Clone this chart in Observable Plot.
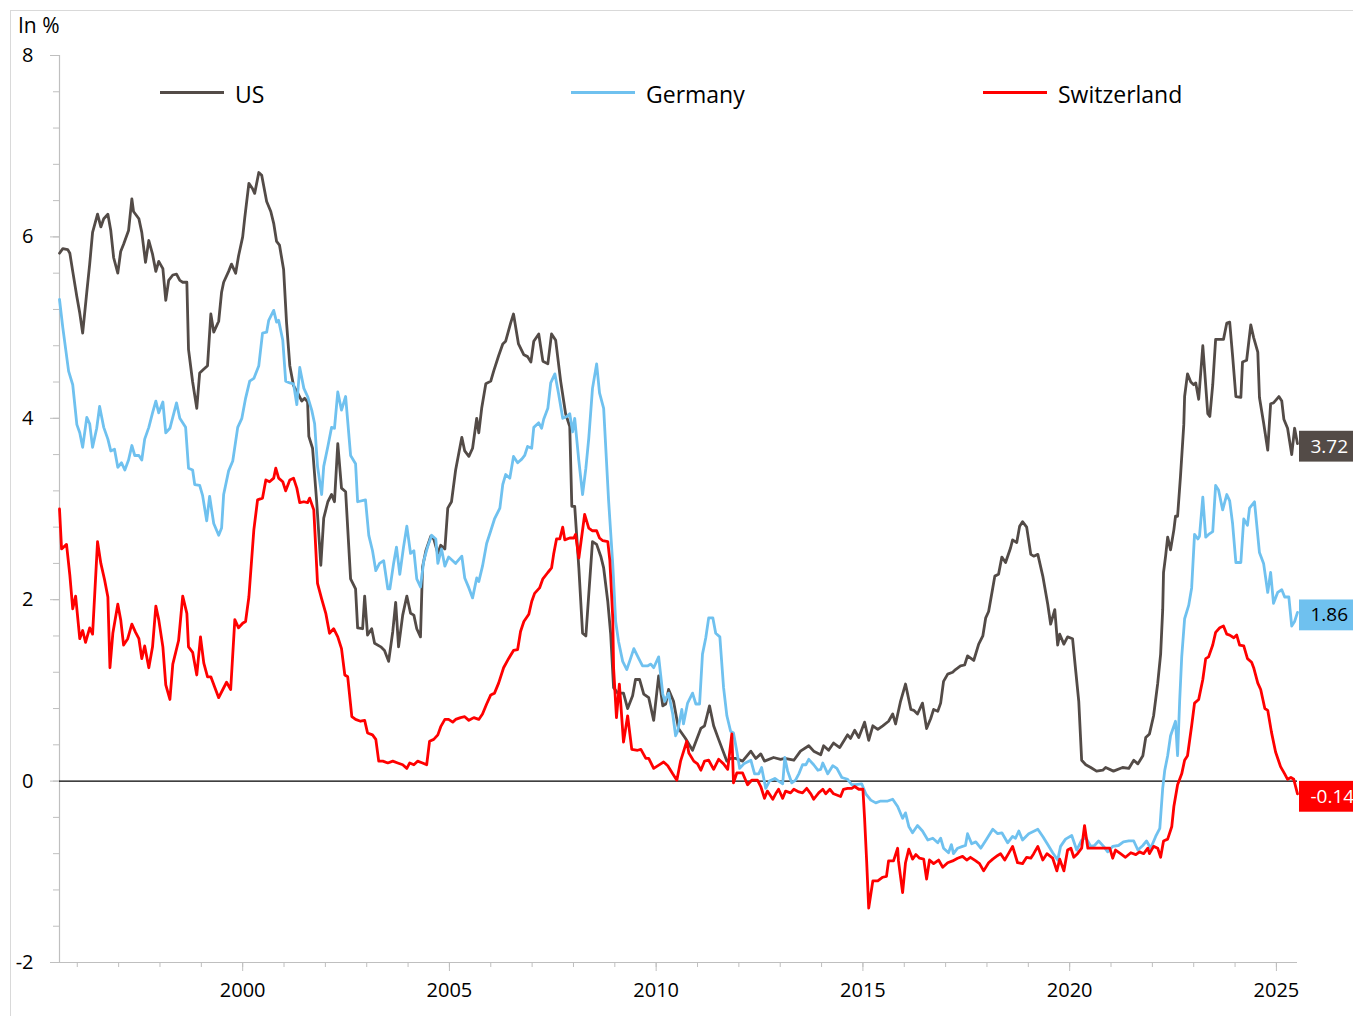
<!DOCTYPE html>
<html>
<head>
<meta charset="utf-8">
<script src="https://cdn.jsdelivr.net/npm/d3@7"></script>
<script src="https://cdn.jsdelivr.net/npm/@observablehq/plot@0.6"></script>
<style>
  html, body { margin: 0; padding: 0; background: #fff; }
  #wrap { position: relative; width: 1353px; height: 1016px; overflow: hidden; background: #fff; font-family: 'Open Sans', sans-serif; }
  #border { position: absolute; left: 10px; top: 10px; width: 1400px; height: 1100px; border: 1px solid #d9d9d9; box-sizing: border-box; }
  #chart { position: absolute; left: 0; top: 0; }
  #unit { position: absolute; left: 18px; top: 15px; font-size: 21px; line-height: 21px; height: 21px; color: #000; }
  .lg-line { position: absolute; height: 3px; width: 64px; top: 90.5px; }
  .lg-text { position: absolute; top: 83px; font-size: 23px; line-height: 23px; color: #000; white-space: nowrap; }
</style>
</head>
<body>
<div id="wrap">
  <div id="border"></div>
  <div id="chart"></div>
  <div id="unit">In %</div>
</div>
<script>
// ---------- data (2-year government bond yields, in %) ----------
const seriesNames = ["US", "Germany", "Switzerland"];
const seriesColors = ["#534b47", "#6fc1ef", "#ff0000"];
const labelTextColors = ["#ffffff", "#000000", "#ffffff"];
const yTicks = [-2, 0, 2, 4, 6, 8];
const yearLabels = [2000, 2005, 2010, 2015, 2020, 2025];

const usSeries = [
[1995.57,5.82],[1995.65,5.87],[1995.77,5.86],[1995.82,5.82],[1995.89,5.62],[1995.99,5.34],[1996.06,5.16],[1996.13,4.94],
[1996.23,5.39],[1996.30,5.70],[1996.37,6.05],[1996.49,6.25],[1996.57,6.11],[1996.64,6.20],[1996.74,6.25],[1996.81,6.07],
[1996.88,5.77],[1996.98,5.60],[1997.05,5.84],[1997.12,5.92],[1997.24,6.07],[1997.32,6.42],[1997.36,6.28],[1997.49,6.20],
[1997.56,6.05],[1997.65,5.72],[1997.73,5.96],[1997.82,5.81],[1997.90,5.62],[1997.97,5.73],[1998.07,5.65],[1998.14,5.30],
[1998.21,5.52],[1998.31,5.58],[1998.40,5.59],[1998.48,5.52],[1998.55,5.50],[1998.65,5.50],[1998.69,4.76],[1998.79,4.40],
[1998.89,4.11],[1998.96,4.50],[1999.03,4.53],[1999.15,4.58],[1999.23,5.15],[1999.30,4.95],[1999.42,5.07],[1999.49,5.39],
[1999.54,5.50],[1999.66,5.62],[1999.73,5.70],[1999.83,5.60],[1999.90,5.79],[2000.00,6.00],[2000.05,6.21],[2000.15,6.59],
[2000.24,6.53],[2000.29,6.48],[2000.39,6.71],[2000.46,6.68],[2000.58,6.39],[2000.68,6.28],[2000.75,6.15],[2000.82,5.95],
[2000.89,5.91],[2000.99,5.64],[2001.06,5.06],[2001.14,4.58],[2001.23,4.36],[2001.33,4.28],[2001.43,4.19],[2001.50,4.22],
[2001.57,4.18],[2001.60,3.80],[2001.69,3.67],[2001.79,3.08],[2001.89,2.38],[2001.96,2.90],[2002.06,3.08],[2002.15,3.16],
[2002.22,3.08],[2002.30,3.72],[2002.39,3.23],[2002.49,3.19],[2002.61,2.23],[2002.73,2.12],[2002.78,1.69],[2002.90,1.68],
[2002.95,2.04],[2003.02,1.61],[2003.12,1.68],[2003.19,1.52],[2003.34,1.48],[2003.43,1.44],[2003.53,1.32],[2003.63,1.65],
[2003.70,1.97],[2003.77,1.48],[2003.87,1.83],[2003.97,2.04],[2004.06,1.85],[2004.14,1.83],[2004.21,1.68],[2004.30,1.59],
[2004.35,2.36],[2004.43,2.54],[2004.55,2.70],[2004.62,2.67],[2004.72,2.51],[2004.79,2.60],[2004.89,2.56],[2004.96,3.01],
[2005.05,3.08],[2005.15,3.43],[2005.30,3.79],[2005.37,3.64],[2005.47,3.58],[2005.56,3.67],[2005.66,4.00],[2005.71,3.84],
[2005.78,4.11],[2005.88,4.38],[2006.00,4.41],[2006.07,4.52],[2006.19,4.69],[2006.29,4.82],[2006.36,4.85],[2006.48,5.05],
[2006.55,5.15],[2006.67,4.82],[2006.80,4.70],[2006.89,4.68],[2006.97,4.62],[2007.04,4.85],[2007.16,4.93],[2007.26,4.63],
[2007.38,4.60],[2007.47,4.93],[2007.57,4.86],[2007.69,4.41],[2007.81,4.05],[2007.91,3.91],[2007.96,3.03],[2008.03,3.03],
[2008.13,2.35],[2008.22,1.63],[2008.30,1.60],[2008.37,2.06],[2008.46,2.64],[2008.56,2.61],[2008.66,2.48],[2008.73,2.35],
[2008.83,1.98],[2008.90,1.62],[2008.97,1.03],[2009.07,0.97],[2009.14,0.97],[2009.21,0.97],[2009.31,0.80],[2009.43,0.94],
[2009.50,1.12],[2009.60,1.12],[2009.70,0.96],[2009.82,0.92],[2009.94,0.67],[2010.06,1.16],[2010.16,0.83],[2010.23,0.85],
[2010.30,1.01],[2010.42,0.88],[2010.54,0.58],[2010.71,0.47],[2010.88,0.34],[2011.08,0.58],[2011.17,0.61],[2011.29,0.83],
[2011.39,0.61],[2011.51,0.46],[2011.71,0.22],[2011.80,0.25],[2011.92,0.25],[2012.09,0.22],[2012.29,0.33],[2012.41,0.25],
[2012.53,0.30],[2012.62,0.22],[2012.84,0.26],[2013.01,0.24],[2013.11,0.25],[2013.33,0.23],[2013.49,0.33],[2013.69,0.39],
[2013.81,0.33],[2013.98,0.29],[2014.05,0.39],[2014.17,0.34],[2014.29,0.42],[2014.44,0.37],[2014.63,0.51],[2014.70,0.47],
[2014.80,0.56],[2014.90,0.48],[2015.04,0.65],[2015.14,0.45],[2015.24,0.61],[2015.36,0.57],[2015.48,0.61],[2015.62,0.66],
[2015.72,0.74],[2015.79,0.63],[2015.91,0.88],[2016.03,1.07],[2016.16,0.79],[2016.23,0.78],[2016.32,0.74],[2016.44,0.86],
[2016.54,0.58],[2016.64,0.69],[2016.71,0.79],[2016.81,0.77],[2016.88,0.86],[2016.95,1.10],[2017.05,1.18],[2017.17,1.20],
[2017.24,1.23],[2017.36,1.27],[2017.46,1.28],[2017.53,1.38],[2017.68,1.33],[2017.80,1.51],[2017.90,1.60],[2017.97,1.80],
[2018.04,1.87],[2018.14,2.13],[2018.19,2.26],[2018.28,2.28],[2018.36,2.47],[2018.45,2.41],[2018.57,2.57],[2018.62,2.66],
[2018.72,2.63],[2018.79,2.81],[2018.86,2.86],[2018.96,2.80],[2019.06,2.50],[2019.13,2.48],[2019.23,2.50],[2019.35,2.26],
[2019.47,1.95],[2019.54,1.73],[2019.64,1.89],[2019.71,1.50],[2019.76,1.62],[2019.86,1.51],[2019.95,1.59],[2020.07,1.57],
[2020.15,1.20],[2020.22,0.88],[2020.29,0.23],[2020.39,0.18],[2020.51,0.15],[2020.65,0.11],[2020.80,0.12],[2020.87,0.15],
[2021.06,0.11],[2021.28,0.15],[2021.43,0.14],[2021.55,0.23],[2021.65,0.19],[2021.77,0.28],[2021.84,0.48],[2021.93,0.52],
[2022.03,0.72],[2022.13,1.08],[2022.20,1.40],[2022.25,1.89],[2022.27,2.30],[2022.32,2.48],[2022.37,2.69],[2022.44,2.55],
[2022.52,2.77],[2022.56,2.92],[2022.61,2.92],[2022.68,3.36],[2022.76,3.93],[2022.78,4.24],[2022.85,4.49],[2022.93,4.40],
[2023.00,4.37],[2023.05,4.39],[2023.12,4.21],[2023.22,4.80],[2023.27,4.49],[2023.34,4.05],[2023.39,4.02],[2023.46,4.37],
[2023.53,4.87],[2023.63,4.87],[2023.72,4.87],[2023.80,5.05],[2023.87,5.06],[2023.94,4.69],[2024.02,4.24],[2024.14,4.23],
[2024.18,4.62],[2024.28,4.64],[2024.38,5.03],[2024.45,4.89],[2024.55,4.73],[2024.59,4.23],[2024.69,3.95],[2024.79,3.65],
[2024.86,4.16],[2024.93,4.17],[2025.06,4.24],[2025.13,4.19],[2025.18,3.99],[2025.27,3.89],[2025.37,3.60],[2025.44,3.89],
[2025.51,3.72]
];

const germanySeries = [
[1995.57,5.31],[1995.65,5.00],[1995.72,4.76],[1995.79,4.52],[1995.89,4.37],[1995.99,3.93],[1996.06,3.84],[1996.13,3.68],
[1996.23,4.01],[1996.30,3.94],[1996.37,3.68],[1996.47,3.89],[1996.54,4.13],[1996.64,3.90],[1996.74,3.77],[1996.81,3.64],
[1996.90,3.66],[1996.98,3.46],[1997.07,3.51],[1997.15,3.43],[1997.24,3.54],[1997.32,3.70],[1997.39,3.59],[1997.49,3.59],
[1997.56,3.54],[1997.63,3.77],[1997.73,3.90],[1997.82,4.06],[1997.90,4.19],[1997.97,4.06],[1998.07,4.18],[1998.14,3.84],
[1998.24,3.89],[1998.40,4.17],[1998.48,4.00],[1998.62,3.90],[1998.69,3.45],[1998.79,3.43],[1998.84,3.27],[1998.96,3.26],
[1999.03,3.15],[1999.13,2.87],[1999.20,3.14],[1999.30,2.84],[1999.42,2.71],[1999.49,2.79],[1999.54,3.16],[1999.66,3.42],
[1999.76,3.53],[1999.88,3.90],[1999.98,4.00],[2000.07,4.22],[2000.17,4.41],[2000.27,4.44],[2000.39,4.58],[2000.48,4.94],
[2000.58,4.95],[2000.63,5.08],[2000.75,5.19],[2000.82,5.06],[2000.87,5.08],[2000.97,4.86],[2001.04,4.41],[2001.14,4.39],
[2001.23,4.38],[2001.31,4.15],[2001.38,4.56],[2001.48,4.33],[2001.57,4.24],[2001.67,4.09],[2001.74,3.94],[2001.81,3.47],
[2001.91,3.16],[2001.96,3.47],[2002.06,3.69],[2002.15,3.90],[2002.22,3.89],[2002.30,4.29],[2002.39,4.09],[2002.49,4.24],
[2002.61,3.59],[2002.73,3.50],[2002.78,3.08],[2002.97,3.10],[2003.05,2.71],[2003.14,2.54],[2003.22,2.32],[2003.31,2.40],
[2003.41,2.43],[2003.51,2.12],[2003.56,2.12],[2003.65,2.40],[2003.72,2.58],[2003.80,2.28],[2003.89,2.58],[2003.97,2.81],
[2004.06,2.51],[2004.14,2.54],[2004.21,2.23],[2004.30,2.14],[2004.38,2.43],[2004.47,2.58],[2004.57,2.71],[2004.67,2.67],
[2004.72,2.40],[2004.81,2.56],[2004.89,2.37],[2004.98,2.47],[2005.08,2.43],[2005.15,2.40],[2005.30,2.48],[2005.37,2.24],
[2005.47,2.13],[2005.56,2.02],[2005.66,2.24],[2005.71,2.20],[2005.80,2.37],[2005.90,2.62],[2006.00,2.76],[2006.09,2.89],
[2006.22,3.01],[2006.29,3.27],[2006.36,3.38],[2006.46,3.34],[2006.55,3.58],[2006.65,3.51],[2006.75,3.55],[2006.82,3.59],
[2006.89,3.69],[2006.99,3.67],[2007.04,3.90],[2007.16,3.95],[2007.23,3.89],[2007.28,3.99],[2007.38,4.11],[2007.45,4.39],
[2007.55,4.49],[2007.64,4.27],[2007.74,4.00],[2007.84,4.02],[2007.91,4.05],[2007.98,3.85],[2008.03,4.00],[2008.13,3.53],
[2008.22,3.16],[2008.30,3.45],[2008.37,3.78],[2008.46,4.33],[2008.56,4.60],[2008.63,4.28],[2008.73,4.11],[2008.85,3.09],
[2008.95,2.39],[2009.02,1.76],[2009.09,1.54],[2009.19,1.32],[2009.29,1.23],[2009.38,1.35],[2009.46,1.46],[2009.58,1.35],
[2009.67,1.27],[2009.79,1.27],[2009.87,1.29],[2009.94,1.25],[2010.06,1.37],[2010.16,0.96],[2010.21,0.88],[2010.30,0.97],
[2010.40,0.74],[2010.47,0.50],[2010.52,0.55],[2010.62,0.79],[2010.66,0.63],[2010.76,0.86],[2010.88,0.97],[2010.96,0.85],
[2011.05,0.85],[2011.12,1.40],[2011.20,1.58],[2011.27,1.80],[2011.37,1.80],[2011.44,1.63],[2011.54,1.59],[2011.63,1.03],
[2011.71,0.72],[2011.80,0.55],[2011.87,0.53],[2011.95,0.33],[2012.02,0.14],[2012.12,0.19],[2012.29,0.23],[2012.38,0.08],
[2012.48,0.08],[2012.55,0.15],[2012.65,-0.08],[2012.74,0.00],[2012.87,0.03],[2012.96,0.00],[2013.06,-0.03],[2013.11,0.26],
[2013.18,0.11],[2013.28,-0.02],[2013.37,0.01],[2013.45,0.08],[2013.54,0.18],[2013.62,0.18],[2013.69,0.24],[2013.81,0.18],
[2013.91,0.12],[2013.98,0.13],[2014.03,0.20],[2014.15,0.08],[2014.27,0.17],[2014.37,0.14],[2014.49,0.04],[2014.63,0.02],
[2014.73,-0.04],[2014.82,-0.04],[2014.97,-0.03],[2015.07,-0.14],[2015.19,-0.21],[2015.31,-0.24],[2015.43,-0.22],[2015.60,-0.22],
[2015.72,-0.20],[2015.84,-0.28],[2015.96,-0.41],[2016.03,-0.35],[2016.11,-0.50],[2016.20,-0.57],[2016.32,-0.49],[2016.44,-0.55],
[2016.57,-0.65],[2016.69,-0.63],[2016.81,-0.68],[2016.88,-0.63],[2016.95,-0.74],[2017.07,-0.79],[2017.14,-0.70],[2017.19,-0.80],
[2017.29,-0.74],[2017.41,-0.72],[2017.48,-0.71],[2017.53,-0.58],[2017.63,-0.69],[2017.73,-0.67],[2017.85,-0.74],[2017.99,-0.64],
[2018.14,-0.53],[2018.26,-0.58],[2018.36,-0.57],[2018.50,-0.68],[2018.62,-0.61],[2018.69,-0.63],[2018.77,-0.55],[2018.86,-0.65],
[2019.01,-0.58],[2019.23,-0.53],[2019.35,-0.61],[2019.47,-0.70],[2019.59,-0.79],[2019.71,-0.87],[2019.78,-0.72],[2019.90,-0.64],
[2020.05,-0.60],[2020.17,-0.76],[2020.29,-0.65],[2020.39,-0.62],[2020.51,-0.72],[2020.60,-0.71],[2020.70,-0.66],[2020.82,-0.72],
[2020.92,-0.78],[2021.04,-0.72],[2021.18,-0.71],[2021.30,-0.67],[2021.43,-0.66],[2021.55,-0.66],[2021.65,-0.76],[2021.77,-0.71],
[2021.86,-0.66],[2021.96,-0.74],[2022.08,-0.61],[2022.18,-0.52],[2022.25,-0.08],[2022.30,0.12],[2022.37,0.28],[2022.44,0.50],
[2022.56,0.66],[2022.61,0.28],[2022.66,0.88],[2022.71,1.37],[2022.78,1.79],[2022.88,1.94],[2022.95,2.13],[2023.02,2.72],
[2023.10,2.67],[2023.14,2.70],[2023.22,3.13],[2023.29,2.69],[2023.36,2.72],[2023.46,2.75],[2023.53,3.26],[2023.60,3.21],
[2023.70,2.99],[2023.80,3.16],[2023.87,3.09],[2023.94,2.84],[2024.02,2.41],[2024.14,2.41],[2024.21,2.89],[2024.30,2.82],
[2024.35,3.01],[2024.47,3.08],[2024.59,2.52],[2024.69,2.40],[2024.79,2.08],[2024.86,2.30],[2024.93,1.96],[2025.03,2.08],
[2025.13,2.11],[2025.20,2.03],[2025.30,2.03],[2025.37,1.71],[2025.44,1.76],[2025.51,1.86]
];

const switzerlandSeries = [
[1995.57,3.00],[1995.62,2.56],[1995.67,2.58],[1995.74,2.61],[1995.82,2.27],[1995.89,1.90],[1995.96,2.04],[1996.06,1.57],
[1996.13,1.66],[1996.20,1.53],[1996.30,1.69],[1996.37,1.62],[1996.49,2.64],[1996.57,2.40],[1996.66,2.22],[1996.74,2.03],
[1996.79,1.25],[1996.86,1.63],[1996.98,1.95],[1997.05,1.78],[1997.12,1.50],[1997.22,1.57],[1997.32,1.73],[1997.41,1.64],
[1997.49,1.57],[1997.56,1.35],[1997.63,1.49],[1997.73,1.25],[1997.82,1.48],[1997.90,1.93],[1997.97,1.78],[1998.07,1.48],
[1998.14,1.06],[1998.24,0.90],[1998.31,1.29],[1998.38,1.42],[1998.45,1.55],[1998.55,2.04],[1998.65,1.85],[1998.69,1.48],
[1998.79,1.42],[1998.89,1.17],[1998.98,1.59],[1999.06,1.30],[1999.15,1.15],[1999.23,1.15],[1999.32,1.04],[1999.42,0.92],
[1999.52,1.01],[1999.61,1.09],[1999.71,1.01],[1999.81,1.78],[1999.90,1.69],[2000.00,1.74],[2000.07,1.76],[2000.15,2.03],
[2000.27,2.77],[2000.36,3.10],[2000.48,3.12],[2000.56,3.32],[2000.65,3.30],[2000.75,3.34],[2000.80,3.45],[2000.87,3.34],
[2000.97,3.30],[2001.04,3.20],[2001.14,3.32],[2001.23,3.34],[2001.31,3.23],[2001.38,3.07],[2001.48,3.08],[2001.57,3.07],
[2001.62,3.12],[2001.72,2.99],[2001.81,2.18],[2001.91,2.01],[2002.01,1.85],[2002.10,1.63],[2002.20,1.68],[2002.30,1.59],
[2002.39,1.46],[2002.47,1.17],[2002.54,1.15],[2002.64,0.71],[2002.73,0.68],[2002.85,0.66],[2002.95,0.67],[2003.02,0.53],
[2003.14,0.51],[2003.22,0.46],[2003.29,0.22],[2003.39,0.22],[2003.51,0.20],[2003.63,0.22],[2003.75,0.20],[2003.87,0.18],
[2003.97,0.14],[2004.04,0.20],[2004.14,0.18],[2004.23,0.22],[2004.35,0.20],[2004.45,0.18],[2004.52,0.44],[2004.62,0.46],
[2004.72,0.51],[2004.79,0.60],[2004.89,0.68],[2004.98,0.68],[2005.08,0.65],[2005.15,0.68],[2005.27,0.70],[2005.37,0.71],
[2005.47,0.67],[2005.59,0.70],[2005.71,0.68],[2005.80,0.74],[2005.90,0.85],[2006.00,0.95],[2006.09,0.97],[2006.19,1.08],
[2006.31,1.25],[2006.43,1.35],[2006.55,1.44],[2006.65,1.45],[2006.72,1.65],[2006.80,1.76],[2006.92,1.84],[2006.99,1.98],
[2007.06,2.07],[2007.18,2.13],[2007.26,2.23],[2007.38,2.30],[2007.47,2.35],[2007.52,2.50],[2007.59,2.67],[2007.67,2.67],
[2007.74,2.80],[2007.79,2.66],[2007.91,2.68],[2008.01,2.68],[2008.05,2.72],[2008.13,2.46],[2008.27,2.94],[2008.37,2.79],
[2008.46,2.76],[2008.56,2.76],[2008.63,2.68],[2008.71,2.65],[2008.83,2.64],[2008.88,2.43],[2008.95,1.80],[2008.97,1.25],
[2009.04,0.70],[2009.11,1.07],[2009.21,0.43],[2009.31,0.72],[2009.41,0.35],[2009.55,0.34],[2009.63,0.35],[2009.75,0.25],
[2009.82,0.25],[2009.94,0.14],[2010.11,0.19],[2010.18,0.21],[2010.28,0.17],[2010.40,0.08],[2010.50,0.01],[2010.59,0.22],
[2010.74,0.44],[2010.79,0.31],[2010.91,0.22],[2011.00,0.19],[2011.08,0.12],[2011.17,0.22],[2011.27,0.23],[2011.39,0.13],
[2011.51,0.24],[2011.63,0.19],[2011.73,0.13],[2011.83,0.52],[2011.87,-0.02],[2011.95,0.09],[2012.09,0.09],[2012.21,-0.04],
[2012.31,0.01],[2012.45,0.01],[2012.53,-0.06],[2012.62,-0.19],[2012.69,-0.11],[2012.82,-0.20],[2012.89,-0.14],[2012.96,-0.09],
[2013.06,-0.19],[2013.13,-0.11],[2013.25,-0.13],[2013.33,-0.09],[2013.45,-0.12],[2013.54,-0.13],[2013.64,-0.08],[2013.74,-0.14],
[2013.81,-0.20],[2013.93,-0.13],[2014.03,-0.09],[2014.10,-0.14],[2014.20,-0.09],[2014.29,-0.14],[2014.46,-0.17],[2014.53,-0.09],
[2014.63,-0.08],[2014.73,-0.08],[2014.80,-0.06],[2014.90,-0.09],[2015.00,-0.09],[2015.04,-0.41],[2015.09,-0.88],[2015.14,-1.40],
[2015.24,-1.10],[2015.36,-1.10],[2015.48,-1.06],[2015.57,-1.05],[2015.62,-0.88],[2015.74,-0.88],[2015.84,-0.74],[2015.86,-0.88],
[2015.96,-1.23],[2016.03,-0.90],[2016.11,-0.75],[2016.20,-0.86],[2016.28,-0.81],[2016.37,-0.85],[2016.47,-0.86],[2016.54,-1.08],
[2016.61,-0.87],[2016.71,-0.91],[2016.83,-0.87],[2016.93,-0.95],[2017.05,-0.90],[2017.17,-0.88],[2017.29,-0.85],[2017.41,-0.83],
[2017.51,-0.87],[2017.60,-0.84],[2017.73,-0.88],[2017.82,-0.91],[2017.92,-0.99],[2018.04,-0.90],[2018.14,-0.86],[2018.26,-0.82],
[2018.33,-0.80],[2018.43,-0.87],[2018.52,-0.80],[2018.62,-0.72],[2018.74,-0.90],[2018.86,-0.91],[2018.96,-0.84],[2019.06,-0.85],
[2019.13,-0.80],[2019.23,-0.72],[2019.35,-0.87],[2019.45,-0.80],[2019.59,-0.85],[2019.69,-0.99],[2019.76,-0.86],[2019.86,-0.99],
[2019.95,-0.76],[2020.03,-0.74],[2020.10,-0.84],[2020.19,-0.80],[2020.29,-0.74],[2020.36,-0.49],[2020.44,-0.74],[2020.58,-0.74],
[2020.80,-0.74],[2020.97,-0.74],[2021.04,-0.85],[2021.11,-0.76],[2021.23,-0.80],[2021.35,-0.84],[2021.48,-0.79],[2021.60,-0.81],
[2021.69,-0.78],[2021.79,-0.80],[2021.89,-0.74],[2021.93,-0.80],[2022.03,-0.72],[2022.13,-0.74],[2022.20,-0.84],[2022.27,-0.66],
[2022.37,-0.64],[2022.47,-0.50],[2022.52,-0.28],[2022.61,-0.04],[2022.71,0.08],[2022.78,0.23],[2022.85,0.28],[2022.95,0.61],
[2023.02,0.86],[2023.12,0.90],[2023.22,1.12],[2023.29,1.35],[2023.36,1.37],[2023.46,1.50],[2023.53,1.64],[2023.63,1.69],
[2023.72,1.71],[2023.80,1.62],[2023.87,1.61],[2023.97,1.58],[2024.04,1.61],[2024.11,1.50],[2024.21,1.49],[2024.30,1.35],
[2024.40,1.31],[2024.45,1.25],[2024.55,1.08],[2024.62,1.01],[2024.72,0.80],[2024.79,0.78],[2024.88,0.54],[2024.98,0.32],
[2025.10,0.16],[2025.20,0.08],[2025.27,0.02],[2025.35,0.04],[2025.42,0.02],[2025.51,-0.14]
];

// ---------- build ----------
const allSeries = [usSeries, germanySeries, switzerlandSeries];
const rows = allSeries.map((s, i) => s.map(([t, v]) => ({t, v, name: seriesNames[i]})));
const lastPoints = rows.map((r, i) => ({...r[r.length - 1], i}));
const xDomain = [usSeries[0][0], usSeries[usSeries.length - 1][0]];
const yDomain = [yTicks[0], yTicks[yTicks.length - 1]];
const minorY = d3.range(0, 26).map(k => +(yDomain[0] + k * 0.4).toFixed(1));
const minorYears = d3.range(Math.ceil(xDomain[0]), Math.floor(xDomain[1]) + 1);
const axisGrey = "#bfbfbf";

const plot = Plot.plot({
  width: 1353,
  height: 1016,
  marginLeft: 59,
  marginRight: 56,
  marginTop: 55,
  marginBottom: 54,
  style: {fontFamily: "'Open Sans', sans-serif", background: "transparent", overflow: "visible"},
  x: {domain: xDomain, axis: null},
  y: {domain: yDomain, axis: null},
  marks: [
    Plot.ruleX([xDomain[0]], {stroke: axisGrey, strokeWidth: 1.2}),
    Plot.ruleY([yDomain[0]], {stroke: axisGrey, strokeWidth: 1.2}),
    Plot.axisY({ticks: minorY, tickSize: 6, stroke: axisGrey, tickFormat: () => "", label: null}),
    Plot.axisY({ticks: yTicks, tickSize: 9, tickPadding: 17, stroke: axisGrey, fill: "#000", fontSize: 20, tickFormat: d => String(d), label: null}),
    Plot.axisX({ticks: minorYears, tickSize: 5, stroke: axisGrey, tickFormat: () => "", label: null}),
    Plot.axisX({ticks: yearLabels, tickSize: 9, tickPadding: 11, stroke: axisGrey, fill: "#000", fontSize: 20, tickFormat: d => String(d), label: null}),
    Plot.ruleY([0], {stroke: "#000", strokeWidth: 1.3}),
    ...rows.map((r, i) => Plot.line(r, {x: "t", y: "v", stroke: seriesColors[i], strokeWidth: 2.8, strokeLinejoin: "round", strokeLinecap: "round"})),
    Plot.rect(lastPoints, {x1: "t", x2: d => d.t + 2, y1: d => d.v - 0.17, y2: d => d.v + 0.17, fill: d => seriesColors[d.i], insetLeft: 2, dy: 3}),
    Plot.text(lastPoints, {x: "t", y: "v", text: d => d.v.toFixed(2), fill: d => labelTextColors[d.i], textAnchor: "start", dx: 13, dy: 3, fontSize: 19})
  ]
});
document.getElementById("chart").appendChild(plot);

// legend (inside the plot area, as in the original)
const legendLeft = [160, 571, 983];
const wrap = document.getElementById("wrap");
seriesNames.forEach((name, i) => {
  const ln = document.createElement("div");
  ln.className = "lg-line";
  ln.style.left = legendLeft[i] + "px";
  ln.style.background = seriesColors[i];
  wrap.appendChild(ln);
  const tx = document.createElement("div");
  tx.className = "lg-text";
  tx.style.left = (legendLeft[i] + 75) + "px";
  tx.textContent = name;
  wrap.appendChild(tx);
});
</script>
</body>
</html>
